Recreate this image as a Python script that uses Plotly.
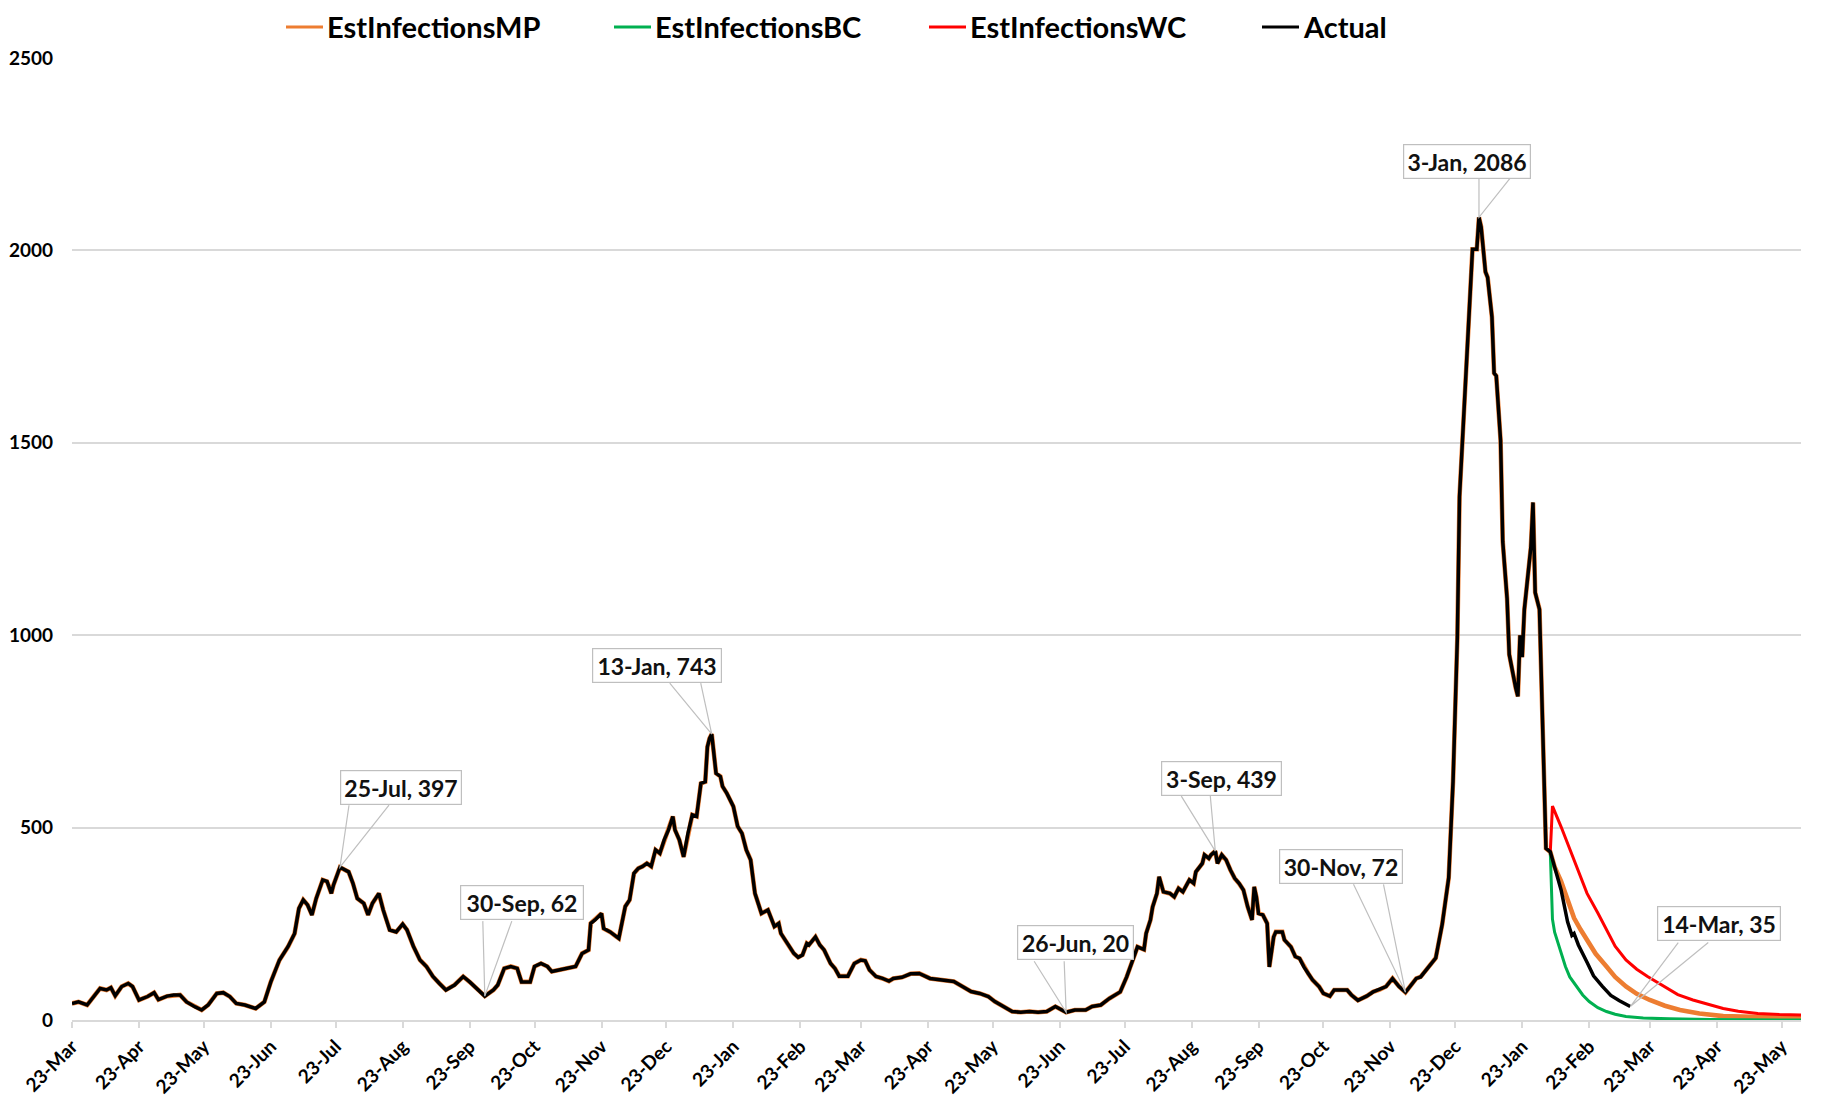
import plotly.graph_objects as go

# ---------------- data ----------------
actual_dates = [
    "2020-03-23","2020-03-26","2020-03-30","2020-04-02","2020-04-05","2020-04-08","2020-04-10","2020-04-12",
    "2020-04-15","2020-04-18","2020-04-20","2020-04-23","2020-04-27","2020-04-30","2020-05-02","2020-05-06",
    "2020-05-09","2020-05-12","2020-05-15","2020-05-19","2020-05-22","2020-05-25","2020-05-29","2020-06-01",
    "2020-06-04","2020-06-07","2020-06-11","2020-06-16","2020-06-20","2020-06-23","2020-06-27","2020-07-01",
    "2020-07-04","2020-07-06","2020-07-08","2020-07-10","2020-07-12","2020-07-14","2020-07-17","2020-07-19",
    "2020-07-21","2020-07-22","2020-07-24","2020-07-25","2020-07-29","2020-07-31","2020-08-02","2020-08-05",
    "2020-08-07","2020-08-09","2020-08-12","2020-08-14","2020-08-17","2020-08-20","2020-08-23","2020-08-25",
    "2020-08-28","2020-08-31","2020-09-03","2020-09-06","2020-09-09","2020-09-12","2020-09-16","2020-09-20",
    "2020-09-23","2020-09-27","2020-09-30","2020-10-04","2020-10-06","2020-10-09","2020-10-12","2020-10-15",
    "2020-10-17","2020-10-21","2020-10-23","2020-10-26","2020-10-29","2020-10-31","2020-11-04","2020-11-07",
    "2020-11-11","2020-11-14","2020-11-17","2020-11-18","2020-11-20","2020-11-23","2020-11-24","2020-11-27",
    "2020-11-30","2020-12-01","2020-12-04","2020-12-06","2020-12-08","2020-12-10","2020-12-12","2020-12-14",
    "2020-12-16","2020-12-18","2020-12-20","2020-12-22","2020-12-24","2020-12-26","2020-12-27","2020-12-29",
    "2020-12-31","2021-01-02","2021-01-04","2021-01-06","2021-01-08","2021-01-10","2021-01-11","2021-01-12",
    "2021-01-13","2021-01-15","2021-01-17","2021-01-18","2021-01-20","2021-01-23","2021-01-25","2021-01-27",
    "2021-01-29","2021-01-31","2021-02-02","2021-02-03","2021-02-05","2021-02-08","2021-02-10","2021-02-11",
    "2021-02-13","2021-02-14","2021-02-17","2021-02-20","2021-02-22","2021-02-24","2021-02-26","2021-02-27",
    "2021-03-02","2021-03-04","2021-03-06","2021-03-09","2021-03-11","2021-03-13","2021-03-17","2021-03-20",
    "2021-03-23","2021-03-25","2021-03-27","2021-03-30","2021-04-02","2021-04-05","2021-04-07","2021-04-11",
    "2021-04-15","2021-04-19","2021-04-24","2021-04-30","2021-05-05","2021-05-09","2021-05-13","2021-05-17",
    "2021-05-21","2021-05-24","2021-05-28","2021-06-01","2021-06-05","2021-06-09","2021-06-13","2021-06-17",
    "2021-06-21","2021-06-23","2021-06-26","2021-06-30","2021-07-05","2021-07-08","2021-07-12","2021-07-16",
    "2021-07-21","2021-07-24","2021-07-27","2021-07-29","2021-08-01","2021-08-02","2021-08-04","2021-08-05",
    "2021-08-07","2021-08-08","2021-08-10","2021-08-13","2021-08-15","2021-08-17","2021-08-19","2021-08-22",
    "2021-08-24","2021-08-25","2021-08-28","2021-08-29","2021-08-31","2021-09-01","2021-09-03","2021-09-04",
    "2021-09-06","2021-09-08","2021-09-10","2021-09-12","2021-09-14","2021-09-16","2021-09-18","2021-09-20",
    "2021-09-21","2021-09-22","2021-09-23","2021-09-25","2021-09-27","2021-09-28","2021-09-30","2021-10-01",
    "2021-10-04","2021-10-05","2021-10-08","2021-10-10","2021-10-12","2021-10-14","2021-10-16","2021-10-18",
    "2021-10-21","2021-10-23","2021-10-26","2021-10-28","2021-11-03","2021-11-05","2021-11-08","2021-11-12",
    "2021-11-15","2021-11-18","2021-11-21","2021-11-24","2021-11-25","2021-11-27","2021-11-30","2021-12-02",
    "2021-12-05","2021-12-07","2021-12-11","2021-12-14","2021-12-17","2021-12-20","2021-12-22","2021-12-24",
    "2021-12-25","2021-12-27","2021-12-29","2021-12-31","2022-01-02","2022-01-03","2022-01-04","2022-01-06",
    "2022-01-07","2022-01-09","2022-01-10","2022-01-11","2022-01-13","2022-01-14","2022-01-16","2022-01-17",
    "2022-01-20","2022-01-21","2022-01-22","2022-01-23","2022-01-24","2022-01-27","2022-01-28","2022-01-29",
    "2022-01-31","2022-02-01","2022-02-02","2022-02-03","2022-02-05","2022-02-08","2022-02-10","2022-02-13",
    "2022-02-15","2022-02-16","2022-02-18","2022-02-22","2022-02-25","2022-03-01","2022-03-05","2022-03-09",
    "2022-03-14",
]
actual_values = [
    43, 47, 39, 61, 82, 78, 84, 63,
    87, 95, 87, 52, 61, 71, 53, 62,
    65, 65, 47, 34, 26, 39, 69, 71,
    61, 43, 39, 30, 47, 99, 156, 191,
    225, 290, 312, 299, 273, 316, 364, 360,
    329, 351, 381, 397, 385, 355, 316, 303,
    273, 303, 329, 286, 234, 229, 249, 234,
    191, 156, 139, 113, 95, 78, 91, 113,
    99, 78, 62, 78, 91, 134, 139, 134,
    99, 99, 139, 147, 139, 126, 130, 134,
    139, 173, 182, 251, 260, 277, 238, 229,
    216, 212, 295, 312, 381, 394, 399, 407,
    399, 442, 433, 468, 494, 529, 494, 468,
    424, 485, 533, 529, 615, 619, 710, 732,
    743, 641, 633, 607, 589, 555, 503, 485,
    442, 416, 329, 312, 277, 286, 260, 243,
    251, 225, 199, 173, 163, 169, 199, 195,
    216, 195, 182, 147, 134, 114, 114, 147,
    156, 154, 130, 113, 108, 101, 108, 111,
    120, 121, 108, 104, 100, 87, 74, 69,
    61, 48, 35, 22, 20, 22, 20, 22,
    35, 30, 20, 26, 26, 35, 39, 56,
    73, 112, 156, 190, 183, 225, 260, 294,
    329, 372, 333, 329, 320, 342, 333, 364,
    355, 385, 407, 429, 420, 429, 439, 407,
    429, 416, 390, 368, 355, 338, 294, 260,
    346, 320, 277, 273, 251, 138, 216, 229,
    229, 208, 190, 165, 160, 138, 121, 104,
    87, 69, 62, 78, 78, 65, 51, 62,
    73, 79, 87, 108, 100, 87, 72, 87,
    108, 112, 139, 161, 249, 370, 620, 994,
    1360, 1579, 1827, 2003, 2003, 2086, 2061, 1944,
    1930, 1827, 1681, 1674, 1506, 1243, 1096, 950,
    863, 841, 1000, 943, 1067, 1228, 1345, 1111,
    1067, 863, 658, 446, 437, 375, 338, 255,
    220, 225, 195, 150, 115, 88, 64, 50,
    35,
]

mp_dates = ["2022-02-05","2022-02-07","2022-02-10","2022-02-13","2022-02-16","2022-02-19","2022-02-22",
            "2022-02-26","2022-03-03","2022-03-07","2022-03-12","2022-03-17","2022-03-23","2022-03-30",
            "2022-04-06","2022-04-15","2022-04-26","2022-05-10","2022-06-01"]
mp_values = [437, 398, 360, 308, 265, 235, 208, 172, 139, 112, 87, 68, 52, 37, 26, 17, 10, 7, 5]

bc_dates = ["2022-02-05","2022-02-06","2022-02-07","2022-02-09","2022-02-12","2022-02-14","2022-02-17",
            "2022-02-20","2022-02-23","2022-02-27","2022-03-03","2022-03-07","2022-03-12","2022-03-20",
            "2022-04-01","2022-04-20","2022-06-01"]
bc_values = [437, 262, 228, 192, 139, 112, 87, 65, 48, 32, 22, 15, 9, 5, 3, 1, 0]

wc_dates = ["2022-02-05","2022-02-06","2022-02-10","2022-02-13","2022-02-16","2022-02-19","2022-02-22",
            "2022-02-27","2022-03-03","2022-03-07","2022-03-12","2022-03-17","2022-03-22","2022-03-31",
            "2022-04-05","2022-04-12","2022-04-19","2022-04-26","2022-05-03","2022-05-12","2022-05-22",
            "2022-06-01"]
wc_values = [437, 556, 502, 458, 416, 372, 329, 278, 234, 192, 156, 132, 113, 82,
             66, 52, 40, 30, 23, 17, 14, 13]

tick_dates = ["2020-03-23","2020-04-23","2020-05-23","2020-06-23","2020-07-23","2020-08-23","2020-09-23",
              "2020-10-23","2020-11-23","2020-12-23","2021-01-23","2021-02-23","2021-03-23","2021-04-23",
              "2021-05-23","2021-06-23","2021-07-23","2021-08-23","2021-09-23","2021-10-23","2021-11-23",
              "2021-12-23","2022-01-23","2022-02-23","2022-03-23","2022-04-23","2022-05-23"]
tick_labels = ["23-Mar","23-Apr","23-May","23-Jun","23-Jul","23-Aug","23-Sep","23-Oct","23-Nov","23-Dec",
               "23-Jan","23-Feb","23-Mar","23-Apr","23-May","23-Jun","23-Jul","23-Aug","23-Sep","23-Oct",
               "23-Nov","23-Dec","23-Jan","23-Feb","23-Mar","23-Apr","23-May"]

callout_dates = ["2020-07-25","2020-09-30","2021-01-13","2021-06-26","2021-09-03","2021-11-30",
                 "2022-01-03","2022-03-14"]
callout_values = [397, 62, 743, 20, 439, 72, 2086, 35]
callout_labels = ["25-Jul, 397","30-Sep, 62","13-Jan, 743","26-Jun, 20","3-Sep, 439","30-Nov, 72",
                  "3-Jan, 2086","14-Mar, 35"]

series_names = ["EstInfectionsMP", "EstInfectionsBC", "EstInfectionsWC", "Actual"]
series_colors = ["#ED7D31", "#00B050", "#FF0000", "#000000"]

# ---------------- layout / style ----------------
FONT = "Lato"
W, H = 1829, 1101
ML, MR, MT, MB = 64, 36, 50, 89
PW, PH = W - ML - MR, H - MT - MB

# callouts: box centre offset (px right, px up), box width, tail base points (px right, px up)
callout_box = [(61, 80), (37, 94), (-55, 69), (9, 70), (6, 73), (-64, 126), (-12, 56), (89, 83)]
callout_w = [122, 124, 130, 117, 121, 124, 128, 124]
callout_tail = [((9, 62), (49, 62)), ((-2, 75), (27, 75)), ((-42, 51), (-11, 51)),
                ((-32, 51), (-2, 51)), ((-34, 55), (-5, 55)), ((-52, 108), (-22, 108)),
                ((0, 39), (31, 39)), ((48, 64), (78, 64))]
BOX_H = 35
PAD = 2
BW = 1.2

# legend key positions (page pixels): line start, line length, gap to text, vertical centre
legend_x0 = [278, 606, 921, 1254]
KEY_LEN = 37
KEY_GAP = 3
LEGEND_Y = 19


def px_to_paper_x(px):
    return (px - ML) / PW


def px_to_paper_y(py):
    return (H - MB - py) / PH


start_idx = actual_dates.index(mp_dates[0])

fig = go.Figure()
fig.add_trace(go.Scatter(x=actual_dates[:start_idx] + mp_dates, y=actual_values[:start_idx] + mp_values,
                         mode="lines", name=series_names[0], line=dict(color=series_colors[0], width=4.6)))
fig.add_trace(go.Scatter(x=bc_dates, y=bc_values, mode="lines", name=series_names[1],
                         line=dict(color=series_colors[1], width=3)))
fig.add_trace(go.Scatter(x=wc_dates, y=wc_values, mode="lines", name=series_names[2],
                         line=dict(color=series_colors[2], width=3)))
fig.add_trace(go.Scatter(x=actual_dates, y=actual_values, mode="lines", name=series_names[3],
                         line=dict(color=series_colors[3], width=3.5)))

shapes = []
annotations = []
for d, v, txt, (bx, by), w, (t1, t2) in zip(callout_dates, callout_values, callout_labels,
                                             callout_box, callout_w, callout_tail):
    shapes.append(dict(type="path", xref="x", yref="y", xsizemode="pixel", ysizemode="pixel",
                       xanchor=d, yanchor=v,
                       path=f"M {t1[0]},{t1[1]} L 0,0 L {t2[0]},{t2[1]}",
                       line=dict(color="#BFBFBF", width=1.2), layer="above"))
    annotations.append(dict(x=d, y=v, xref="x", yref="y", text=txt, showarrow=False,
                            xshift=bx, yshift=by, xanchor="center", yanchor="middle",
                            width=w - 2 * PAD - 2 * BW, height=BOX_H - 2 * PAD - 2 * BW, align="center",
                            font=dict(family=FONT, size=23, color="#111111", weight="bold"),
                            bgcolor="white", bordercolor="#BFBFBF", borderwidth=BW, borderpad=PAD))

# legend drawn as key lines + text along the top
ly = px_to_paper_y(LEGEND_Y)
for name, color, x0 in zip(series_names, series_colors, legend_x0):
    shapes.append(dict(type="line", xref="paper", yref="paper",
                       x0=px_to_paper_x(x0), x1=px_to_paper_x(x0 + KEY_LEN), y0=ly, y1=ly,
                       line=dict(color=color, width=3)))
    annotations.append(dict(x=px_to_paper_x(x0 + KEY_LEN + KEY_GAP), y=ly, xref="paper", yref="paper",
                            text=name, showarrow=False, xanchor="left", yanchor="middle", borderpad=0,
                            font=dict(family=FONT, size=29, color="#000000", weight="bold")))

fig.update_layout(
    width=W, height=H, template="none",
    margin=dict(l=ML, r=MR, t=MT, b=MB),
    paper_bgcolor="white", plot_bgcolor="white",
    font=dict(family=FONT, color="#000000"),
    showlegend=False,
    xaxis=dict(type="date", range=["2020-03-23", "2022-06-01"], tickmode="array",
               tickvals=tick_dates, ticktext=tick_labels, tickangle=-45,
               tickfont=dict(family=FONT, size=19, color="#000000", weight="bold"),
               showgrid=False, showline=True, linecolor="#D9D9D9", linewidth=2,
               ticks="outside", ticklen=6, tickcolor="#D9D9D9", tickwidth=1.5,
               automargin=False, zeroline=False),
    yaxis=dict(range=[0, 2500], tickmode="array", tickvals=[0, 500, 1000, 1500, 2000, 2500],
               ticktext=["0", "500", "1000", "1500", "2000", "2500"],
               tickfont=dict(family=FONT, size=19, color="#000000", weight="bold"),
               showgrid=True, gridcolor="#D9D9D9", gridwidth=1.5, zeroline=False,
               showline=False, ticks="", ticklabelstandoff=18, automargin=False),
    shapes=shapes,
    annotations=annotations,
)

fig.write_html("out.html")
